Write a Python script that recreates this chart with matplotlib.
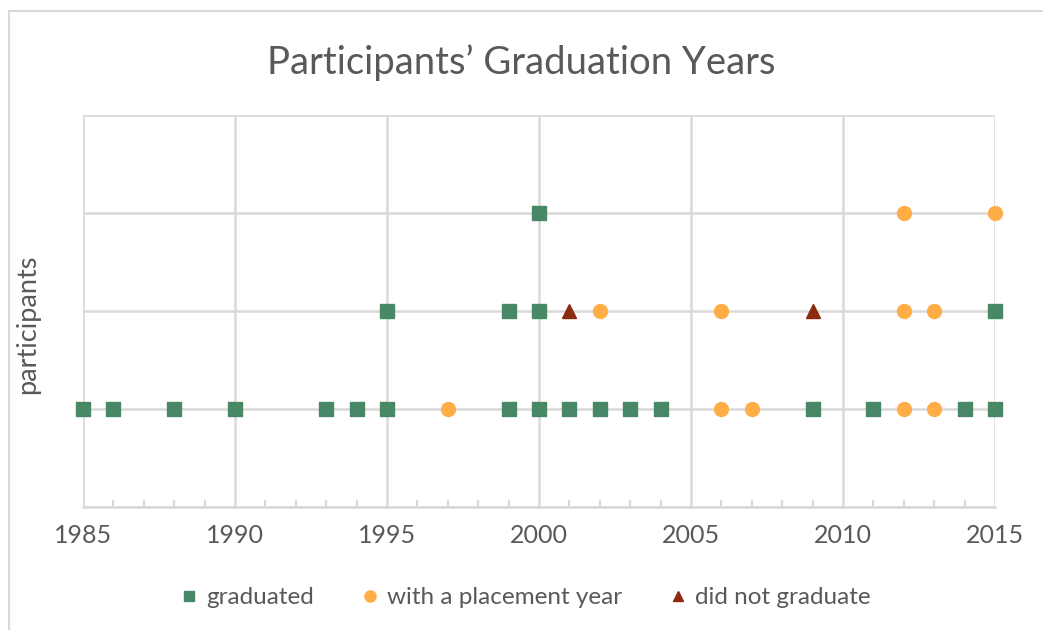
import numpy as np
from matplotlib import pyplot as plt
from matplotlib.patches import Rectangle

# graduated (green squares)
grad_years = [1985, 1986, 1988, 1990, 1993, 1994, 1995, 1999, 2000, 2001, 2002, 2003, 2004,
              2009, 2011, 2014, 2015,
              1995, 1999, 2000, 2015,
              2000]
grad_count = [1] * 17 + [2] * 4 + [3]

# with a placement year (orange circles)
place_years = [1997, 2006, 2007, 2012, 2013,
               2002, 2006, 2012, 2013,
               2012, 2015]
place_count = [1] * 5 + [2] * 4 + [3] * 2

# did not graduate (dark red triangles)
fail_years = [2001, 2009]
fail_count = [2, 2]

xticks = [1985, 1990, 1995, 2000, 2005, 2010, 2015]

plt.rcParams['font.family'] = ['Lato', 'DejaVu Sans']
grey = '#595959'
gridc = '#d9d9d9'

fig = plt.figure(figsize=(10.43, 6.3), dpi=100)
fig.patches.append(Rectangle((9 / 1043, -0.1), 1.2, (630 - 11) / 630 + 0.1,
                             transform=fig.transFigure, fill=False,
                             edgecolor=gridc, linewidth=1.5))
ax = fig.add_axes([83 / 1043, 1 - 507 / 630, (995 - 83) / 1043, (507 - 115) / 630])

ax.plot(grad_years, grad_count, 's', color='#498866', markersize=9.5, label='graduated', zorder=3, clip_on=False)
ax.plot(place_years, place_count, 'o', color='#ffad47', markersize=10, label='with a placement year', zorder=3, clip_on=False)
ax.plot(fail_years, fail_count, '^', color='#8b2a0e', markersize=9.5, label='did not graduate', zorder=3, clip_on=False)

ax.set_xlim(1985, 2015)
ax.set_ylim(0, 4)
ax.set_xticks(xticks)
ax.set_xticks(np.arange(1985, 2016, 1), minor=True)
ax.set_yticks([0, 1, 2, 3, 4])
ax.set_yticklabels([])
ax.grid(True, color=gridc, linewidth=1.8)
ax.set_axisbelow(True)
for s in ['top', 'right', 'left']:
    ax.spines[s].set_visible(False)
ax.spines['bottom'].set_color(gridc)
ax.spines['bottom'].set_linewidth(1.8)
ax.tick_params(axis='x', which='both', direction='in', color=gridc, width=1.5, labelsize=18,
               labelcolor=grey, pad=12)
ax.tick_params(axis='x', which='major', length=0)
ax.tick_params(axis='x', which='minor', length=5)
ax.tick_params(axis='y', length=0)

ax.set_ylabel('participants', fontsize=19.5, color=grey)
ax.yaxis.set_label_coords(-0.047, 0.465)
fig.suptitle('Participants\u2019 Graduation Years', fontsize=27.5, color=grey, y=0.93)
fig.legend(loc='lower center', bbox_to_anchor=(0.5, 0.0), ncol=3, frameon=False, fontsize=17.5,
           handletextpad=0.0, handlelength=1.4, columnspacing=1.6, labelcolor=grey, markerscale=0.8)

fig.savefig('out.png', dpi=100)
